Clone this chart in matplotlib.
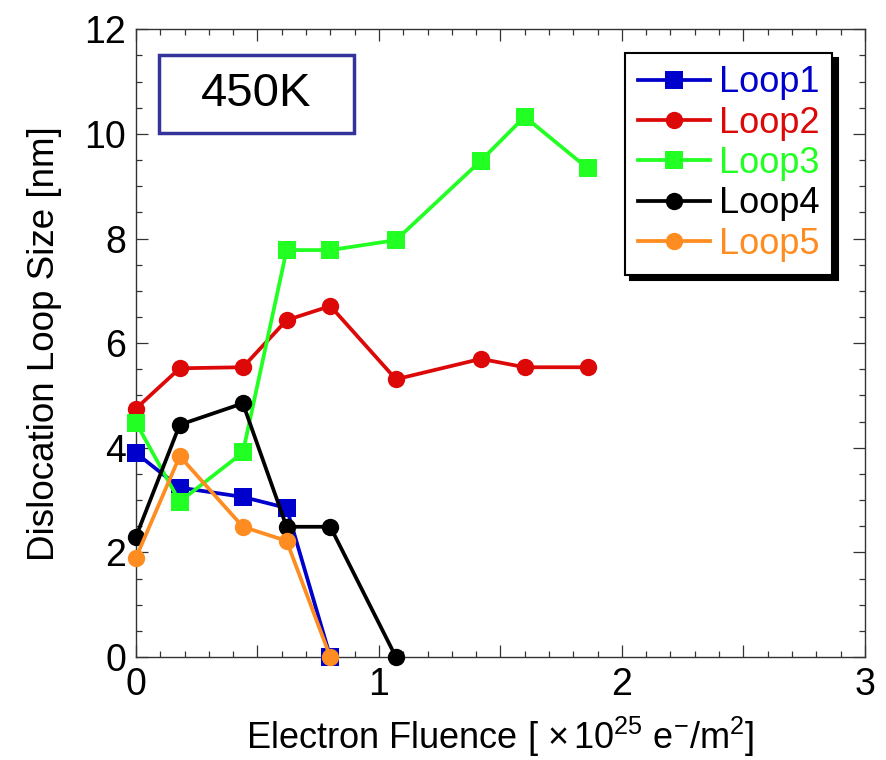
import matplotlib
matplotlib.use("Agg")
import matplotlib.pyplot as plt
from matplotlib.patches import Rectangle
from matplotlib.ticker import MultipleLocator

plt.rcParams['font.family'] = ['Liberation Sans', 'DejaVu Sans']
plt.rcParams['mathtext.fontset'] = 'custom'
plt.rcParams['mathtext.rm'] = 'Liberation Sans'
plt.rcParams['mathtext.it'] = 'Liberation Sans:italic'
plt.rcParams['mathtext.bf'] = 'Liberation Sans:bold'

# Electron fluence (x 10^25 e-/m^2) and loop sizes (nm)
fluence = [0.0, 0.18, 0.44, 0.62, 0.80, 1.07, 1.42, 1.60, 1.86]
loop1 = [3.90, 3.24, 3.06, 2.85, 0.0]
loop2 = [4.75, 5.52, 5.54, 6.44, 6.71, 5.31, 5.70, 5.54, 5.54]
loop3 = [4.48, 2.97, 3.91, 7.78, 7.78, 7.97, 9.49, 10.33, 9.34]
loop4 = [2.30, 4.44, 4.85, 2.49, 2.49, 0.0]
loop5 = [1.90, 3.84, 2.49, 2.22, 0.0]

series = [
    ("Loop1", loop1, "#0000CC", "s"),
    ("Loop2", loop2, "#DD0808", "o"),
    ("Loop3", loop3, "#22FF22", "s"),
    ("Loop4", loop4, "#000000", "o"),
    ("Loop5", loop5, "#FF8C20", "o"),
]

fig = plt.figure(figsize=(8.87, 7.6), dpi=100)
ax = fig.add_axes([0.1533, 0.1355, 0.8217, 0.8259])

for name, vals, col, mk in series:
    ax.plot(fluence[:len(vals)], vals, color=col, marker=mk, lw=2.7,
            markersize=12.5, markeredgewidth=0, label=name, clip_on=False,
            zorder=3)

ax.set_xlim(0, 3)
ax.set_ylim(0, 12)
ax.xaxis.set_major_locator(MultipleLocator(0.5))
ax.xaxis.set_minor_locator(MultipleLocator(0.1))
ax.yaxis.set_major_locator(MultipleLocator(2))
ax.yaxis.set_minor_locator(MultipleLocator(0.5))
ax.set_xticks([0, 0.5, 1, 1.5, 2, 2.5, 3])
ax.set_xticklabels(["0", "", "1", "", "2", "", "3"])
ax.tick_params(which='both', direction='in', top=True, right=True,
               colors='#333333', labelcolor='black', labelsize=27, width=0.9)
ax.tick_params(which='major', length=8.5, pad=7)
ax.tick_params(which='minor', length=4.3)
for sp in ax.spines.values():
    sp.set_color('#333333')
    sp.set_linewidth(1.0)

ax.set_xlabel(r"Electron Fluence [ $\times\,$10$^{25}$ e$^{-}$/m$^{2}$]",
              fontsize=26, labelpad=9)
ax.set_ylabel("Dislocation Loop Size [nm]", fontsize=26.5, labelpad=16)

# temperature label box
ax.add_patch(Rectangle((0.0311, 0.8347), 0.2675, 0.1248, transform=ax.transAxes,
                       fill=False, edgecolor='#333399', lw=2.5, zorder=4))
ax.text(0.165, 0.897, "450K", transform=ax.transAxes, fontsize=34,
        ha='center', va='center', zorder=5)

leg = ax.legend(loc='upper right', bbox_to_anchor=(0.955, 0.963),
                fontsize=26, labelcolor='linecolor', frameon=True,
                fancybox=False, edgecolor='black', handlelength=2.0,
                handletextpad=0.25, borderpad=0.35, labelspacing=0.15,
                borderaxespad=0,
                shadow={'color': 'black', 'alpha': 1, 'ox': 4, 'oy': -4})
leg.get_frame().set_linewidth(1.5)
leg.set_zorder(6)

fig.savefig("out.png", dpi=100)
